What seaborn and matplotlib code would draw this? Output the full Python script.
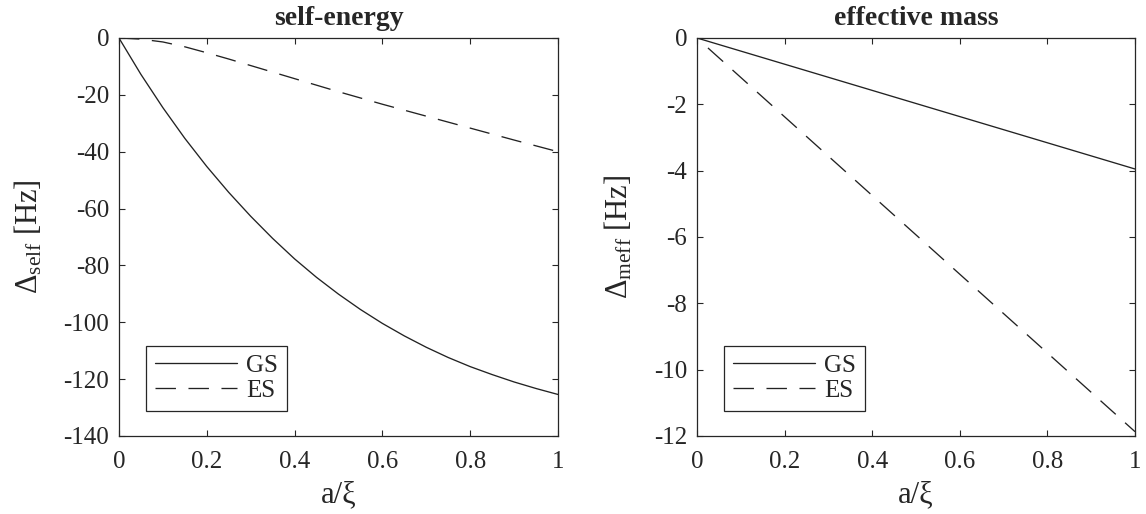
import matplotlib
matplotlib.use("Agg")
import matplotlib.pyplot as plt
import seaborn as sns
import pandas as pd

# a/xi sampling grid
a_xi = [0.0, 0.05, 0.10, 0.15, 0.20, 0.25, 0.30, 0.35, 0.40, 0.45, 0.50,
        0.55, 0.60, 0.65, 0.70, 0.75, 0.80, 0.85, 0.90, 0.95, 1.0]

# self-energy shift [Hz]
self_gs = [0.0, -12.8, -24.5, -35.3, -45.2, -54.3, -62.7, -70.5, -77.7, -84.2, -90.1,
           -95.5, -100.4, -104.8, -108.8, -112.4, -115.6, -118.4, -121.0, -123.3, -125.4]
self_es = [0.0, -0.4, -1.4, -3.1, -5.2, -7.4, -9.7, -12.0, -14.3, -16.6, -18.9,
           -21.1, -23.3, -25.4, -27.5, -29.6, -31.7, -33.8, -35.9, -37.95, -40.0]

# effective-mass shift [Hz]
meff_gs_x = [0.0, 1.0]
meff_gs = [0.0, -3.95]
meff_es_x = [0.025, 1.0]
meff_es = [-0.30, -11.87]

x_ticks = [0, 0.2, 0.4, 0.6, 0.8, 1]
x_ticklabels = ["0", "0.2", "0.4", "0.6", "0.8", "1"]
self_ticks = [0, -20, -40, -60, -80, -100, -120, -140]
meff_ticks = [0, -2, -4, -6, -8, -10, -12]

sns.set_theme(style="ticks")
plt.rcParams.update({
    "font.family": ["Liberation Serif", "DejaVu Serif"],
    "mathtext.fontset": "custom",
    "mathtext.rm": "Liberation Serif",
    "mathtext.it": "Liberation Serif:italic",
    "mathtext.bf": "Liberation Serif:bold",
    "axes.edgecolor": "#262626",
    "axes.linewidth": 0.9,
    "xtick.color": "#262626",
    "ytick.color": "#262626",
    "text.color": "#262626",
    "axes.labelcolor": "#262626",
})

LINE = "#222222"
DASH = (0, (15.5, 9.5))

fig = plt.figure(figsize=(11.46, 5.14), dpi=100)
ax1 = fig.add_axes([0.1038, 0.1518, 0.3831, 0.7743])
ax2 = fig.add_axes([0.6082, 0.1518, 0.3822, 0.7743])

df_self = pd.DataFrame({"a": a_xi, "GS": self_gs, "ES": self_es})

sns.lineplot(data=df_self, x="a", y="GS", ax=ax1, color=LINE, linewidth=0.95, label="GS")
sns.lineplot(data=df_self, x="a", y="ES", ax=ax1, color=LINE, linewidth=0.95,
             linestyle=DASH, label="ES")

sns.lineplot(x=meff_gs_x, y=meff_gs, ax=ax2, color=LINE, linewidth=0.95, label="GS")
sns.lineplot(x=meff_es_x, y=meff_es, ax=ax2, color=LINE, linewidth=0.95,
             linestyle=DASH, label="ES")

panels = [
    (ax1, "self-energy", r"$\mathrm{\Delta_{self}}$ [Hz]", (-140, 0), self_ticks),
    (ax2, "effective mass", r"$\mathrm{\Delta_{meff}}$ [Hz]", (-12, 0), meff_ticks),
]

for ax, title, ylabel, ylim, yticks in panels:
    ax.set_xlim(0, 1)
    ax.set_ylim(*ylim)
    ax.set_xticks(x_ticks)
    ax.set_xticklabels(x_ticklabels)
    ax.set_yticks(yticks)
    ax.set_yticklabels([str(t) for t in yticks])
    ax.tick_params(axis="both", which="both", direction="in", length=4, width=0.8,
                   top=True, right=True, labelsize=18)
    ax.tick_params(axis="x", pad=11)
    ax.tick_params(axis="y", pad=7)
    for s in ax.spines.values():
        s.set_visible(True)
        s.set_linewidth(0.9)
    ax.set_title(title, fontsize=20, fontweight="bold", pad=9)
    ax.set_xlabel("a/\u03be", fontsize=22, labelpad=5)
    ax.set_ylabel(ylabel, fontsize=22, labelpad=14)
    leg = ax.legend(loc="lower left", bbox_to_anchor=(0.0615, 0.063), borderaxespad=0,
                    fontsize=18, handlelength=3.3, handletextpad=0.35, borderpad=0.35,
                    labelspacing=0.1, fancybox=False, framealpha=1, edgecolor="#262626")
    leg.get_frame().set_linewidth(0.9)

fig.savefig("out.png", dpi=100, facecolor="white")
